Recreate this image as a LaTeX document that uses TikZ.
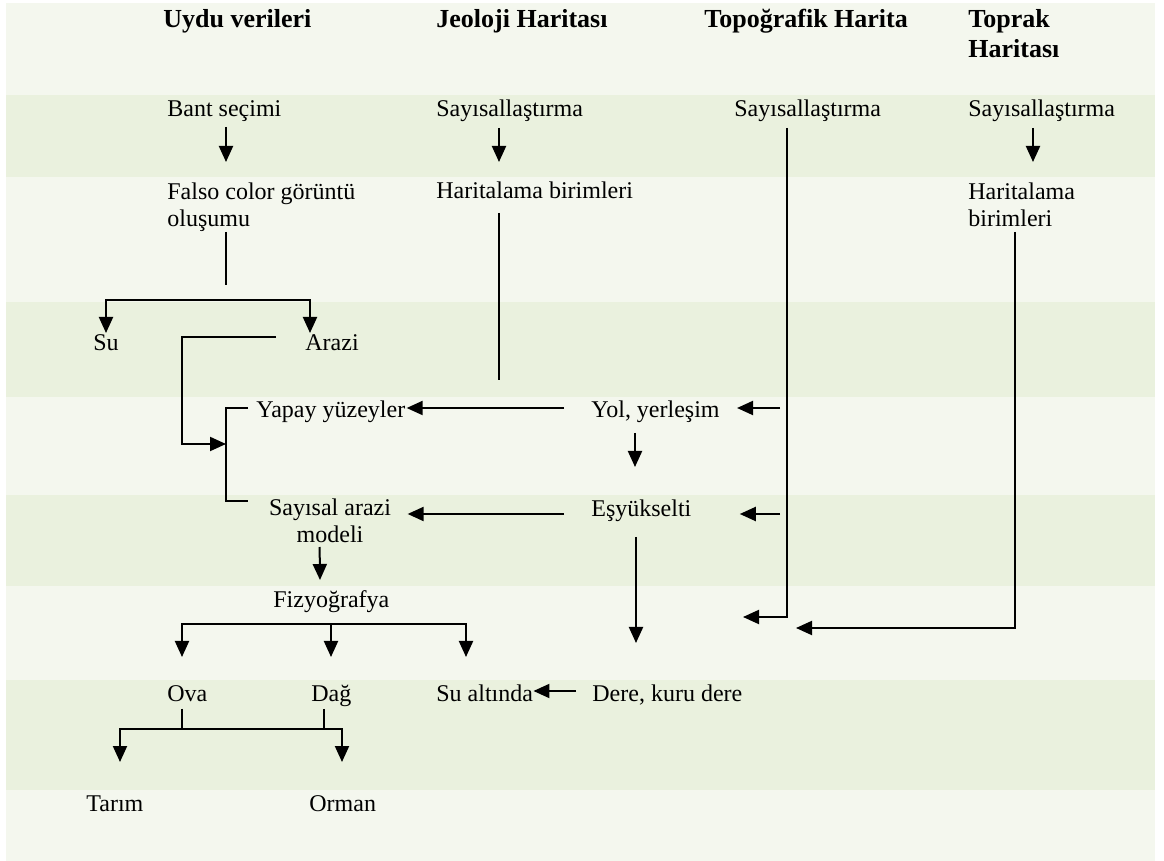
\documentclass[tikz,border=0pt]{standalone}
\usepackage{fontspec}
\setmainfont{Liberation Serif}
\usetikzlibrary{arrows.meta}
\definecolor{bandlight}{HTML}{F4F7EE}
\definecolor{banddark}{HTML}{EAF1DE}

\begin{document}
\begin{tikzpicture}[x=0.5pt,y=-0.5pt,
  hd/.style={font=\fontsize{13}{15}\selectfont\bfseries, anchor=base west, inner sep=0pt, align=left},
  lbl/.style={font=\fontsize{12}{13.5}\selectfont, anchor=base west, inner sep=0pt, align=left},
  arr/.style={line width=1pt, -{Triangle[length=8pt,width=7pt]}},
  ln/.style={line width=1pt}]
\useasboundingbox (0,0) rectangle (1164,861);
\fill[white] (0,0) rectangle (1164,861);
\fill[bandlight] (6,3) rectangle (1155,95);
\fill[banddark] (6,95) rectangle (1155,177);
\fill[bandlight] (6,177) rectangle (1155,302);
\fill[banddark] (6,302) rectangle (1155,397);
\fill[bandlight] (6,397) rectangle (1155,495);
\fill[banddark] (6,495) rectangle (1155,586);
\fill[bandlight] (6,586) rectangle (1155,680);
\fill[banddark] (6,680) rectangle (1155,790);
\fill[bandlight] (6,790) rectangle (1155,861);

\node[hd] (hUydu) at (163,28) {Uydu verileri};
\node[hd] (hJeo) at (436,28) {Jeoloji Haritası};
\node[hd] (hTopo) at (704,28) {Topoğrafik Harita};
\node[hd] (hToprak) at (968,58) {Toprak\\Haritası};

\node[lbl] (bant) at (167,117) {Bant seçimi};
\node[lbl] (sayJeo) at (436,117) {Sayısallaştırma};
\node[lbl] (sayTopo) at (734,117) {Sayısallaştırma};
\node[lbl] (sayToprak) at (968,117) {Sayısallaştırma};

\node[lbl] (falso) at (167,227) {Falso color görüntü\\oluşumu};
\node[lbl] (birJeo) at (436,199) {Haritalama birimleri};
\node[lbl] (birToprak) at (968,227) {Haritalama\\birimleri};

\node[lbl] (su) at (93,351) {Su};
\node[lbl] (arazi) at (305,351) {Arazi};
\node[lbl] (yapay) at (256,418) {Yapay yüzeyler};
\node[lbl] (yol) at (591,418) {Yol, yerleşim};
\node[lbl, anchor=base, align=center] (sayArazi) at (330,543) {Sayısal arazi\\modeli};
\node[lbl] (esyuk) at (591,517) {Eşyükselti};
\node[lbl] (fizyo) at (273,608) {Fizyoğrafya};
\node[lbl] (ova) at (167,702) {Ova};
\node[lbl] (dag) at (311,702) {Dağ};
\node[lbl] (sualt) at (436,702) {Su altında};
\node[lbl] (dere) at (592,702) {Dere, kuru dere};
\node[lbl] (tarim) at (86,812) {Tarım};
\node[lbl] (orman) at (309,812) {Orman};

\coordinate (topoUc) at (743,617);
\coordinate (toprakUc) at (796,628);
\coordinate (jeoUc) at (499,380);
\coordinate (dal1) at (226,300);
\coordinate (t1) at (780,408);
\coordinate (t2) at (780,514);
\coordinate (esyukUc) at (636,643);

\draw[arr] ([shift={(59,10)}]bant.base west) -- ([shift={(59,-65)}]falso.base west);
\draw[arr] ([shift={(63,11)}]sayJeo.base west) -- ([shift={(63,-37)}]birJeo.base west);
\draw[arr] ([shift={(65,11)}]sayToprak.base west) -- ([shift={(65,-65)}]birToprak.base west);
\draw[arr] ([shift={(53,11)}]sayTopo.base west) |- (topoUc);
\draw[arr] ([shift={(47,5)}]birToprak.base west) |- (toprakUc);
\draw[ln] ([shift={(63,14)}]birJeo.base west) -- (jeoUc);

\draw[ln] ([shift={(59,5)}]falso.base west) -- ++(0,53);
\draw[arr] (dal1) -| ([shift={(13,-18)}]su.base west);
\draw[arr] (dal1) -| ([shift={(5,-18)}]arazi.base west);
\draw[arr] ([shift={(-29,-14)}]arazi.base west) -- ++(-94,0) -- ++(0,107) -- ++(44,0);
\draw[ln] ([shift={(-8,-10)}]yapay.base west) -- ++(-22,0) |- ([shift={(-21,-42)}]sayArazi.base west);

\draw[arr] ([shift={(-27,-10)}]yol.base west) -- ([shift={(1,-10)}]yapay.base east);
\draw[arr] (t1) -- ([shift={(17,-10)}]yol.base east);
\draw[arr] ([shift={(44,15)}]yol.base west) -- ([shift={(44,-50)}]esyuk.base west);
\draw[arr] ([shift={(-27,-3)}]esyuk.base west) -- ([shift={(139,-29)}]sayArazi.base west);
\draw[arr] (t2) -- ([shift={(48,-3)}]esyuk.base east);
\draw[arr] ([shift={(45,20)}]esyuk.base west) -- (esyukUc);

\draw[arr] ([shift={(51,4)}]sayArazi.base west) -- ([shift={(47,-28)}]fizyo.base west);
\draw[arr] ([shift={(58,16)}]fizyo.base west) -| ([shift={(15,-45)}]ova.base west);
\draw[arr] ([shift={(58,16)}]fizyo.base west) -- ([shift={(20,-45)}]dag.base west);
\draw[arr] ([shift={(58,16)}]fizyo.base west) -| ([shift={(30,-45)}]sualt.base west);
\draw[arr] ([shift={(-16,-11)}]dere.base west) -- ([shift={(0,-11)}]sualt.base east);

\draw[arr] ([shift={(15,7)}]ova.base west) -- ++(0,20) -| ([shift={(34,-50)}]tarim.base west);
\draw[arr] ([shift={(15,7)}]ova.base west) -- ++(0,20) -| ([shift={(33,-50)}]orman.base west);
\draw[ln] ([shift={(13,7)}]dag.base west) -- ++(0,20);
\end{tikzpicture}
\end{document}
